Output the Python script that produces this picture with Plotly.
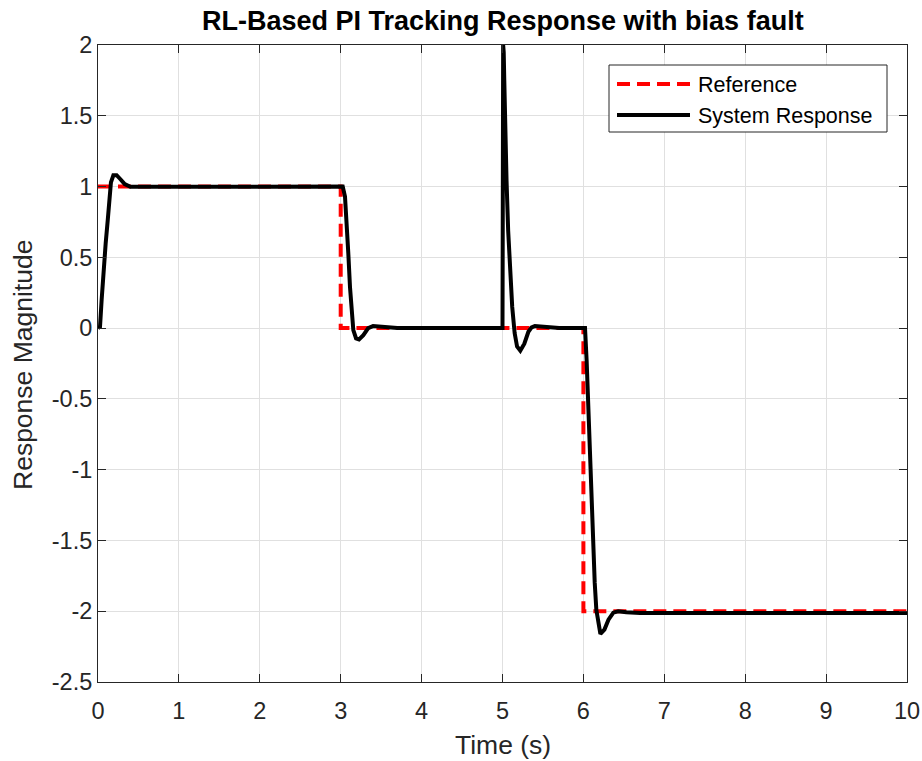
import plotly.graph_objects as go

# Reference signal (step changes)
ref_t = [0, 3, 3, 6, 6, 10]
ref_y = [1, 1, 0, 0, -2, -2]

# System response
resp_t = [0, 0.025, 0.045, 0.066, 0.095, 0.12, 0.14, 0.16, 0.19, 0.23, 0.28, 0.33, 0.40, 0.48, 0.6,
          3.0, 3.025, 3.053, 3.074, 3.094, 3.115, 3.136, 3.156, 3.19, 3.226, 3.28, 3.34, 3.40, 3.53, 3.7,
          5.0, 5.008, 5.015, 5.022, 5.03, 5.04, 5.05, 5.07, 5.09, 5.12, 5.15, 5.18, 5.22, 5.27, 5.32, 5.36,
          5.40, 5.55, 5.7,
          6.0, 6.02, 6.04, 6.06, 6.08, 6.10, 6.12, 6.14, 6.16, 6.19, 6.21, 6.26, 6.31, 6.37, 6.43, 6.53, 6.7,
          10.0]
resp_y = [0, 0.01, 0.2, 0.41, 0.6, 0.76, 0.93, 1.03, 1.08, 1.08, 1.05, 1.017, 0.998, 0.998, 1.0,
          1.0, 1.0, 0.93, 0.76, 0.53, 0.29, 0.10, -0.014, -0.073, -0.08, -0.05, 0.0, 0.014, 0.01, 0.0,
          0.0, 2.0, 1.95, 1.75, 1.45, 1.22, 1.04, 0.69, 0.41, 0.15, -0.035, -0.13, -0.16, -0.11, -0.026, 0.005,
          0.014, 0.005, 0.0,
          0.0, 0.0, -0.23, -0.58, -0.93, -1.29, -1.57, -1.80, -1.99, -2.11, -2.16, -2.13, -2.06, -2.01, -2.0, -2.008, -2.013,
          -2.013]

x_ticks = list(range(0, 11))
y_ticks = [-2.5, -2, -1.5, -1, -0.5, 0, 0.5, 1, 1.5, 2]
y_tick_text = ["-2.5", "-2", "-1.5", "-1", "-0.5", "0", "0.5", "1", "1.5", "2"]

legend_names = ["Reference", "System Response"]
title_text = "RL-Based PI Tracking Response with bias fault"
x_title = "Time (s)"
y_title = "Response Magnitude"

FONT = "Liberation Sans, Arial, sans-serif"
AX = "#262626"

W, H = 922, 761
ml, mr, mt, mb = 98, 15, 45, 79
pw, ph = W - ml - mr, H - mt - mb
def px(x): return (x - ml) / pw
def py(y): return 1 - (y - mt) / ph

fig = go.Figure()
fig.add_trace(go.Scatter(x=ref_t, y=ref_y, mode="lines", name=legend_names[0],
                         line=dict(color="#ff0000", width=4, dash="13px,7px"), showlegend=False))
fig.add_trace(go.Scatter(x=resp_t, y=resp_y, mode="lines", name=legend_names[1],
                         line=dict(color="#000000", width=4), showlegend=False))

# manual legend (MATLAB style)
L, R, T, B = 609, 887, 65, 132
fig.add_shape(type="rect", xref="paper", yref="paper", x0=px(L), x1=px(R), y0=py(B), y1=py(T),
              line=dict(color=AX, width=1), fillcolor="white", layer="above")
fig.add_shape(type="line", xref="paper", yref="paper", x0=px(617), x1=px(690), y0=py(84), y1=py(84),
              line=dict(color="#ff0000", width=4, dash="13px,7px"), layer="above")
fig.add_shape(type="line", xref="paper", yref="paper", x0=px(617), x1=px(690), y0=py(115), y1=py(115),
              line=dict(color="#000000", width=4), layer="above")
for name, yy in zip(legend_names, [85, 116]):
    fig.add_annotation(xref="paper", yref="paper", x=px(696), y=py(yy), text=name, showarrow=False,
                       xanchor="left", yanchor="middle", font=dict(family=FONT, size=21.5, color="#000"))

# title and axis titles
fig.add_annotation(xref="paper", yref="paper", x=px(503), y=py(21), text="<b>" + title_text + "</b>",
                   showarrow=False, xanchor="center", yanchor="middle",
                   font=dict(family=FONT, size=27, color="#000"))
fig.add_annotation(xref="paper", yref="paper", x=px(503), y=py(745), text=x_title,
                   showarrow=False, xanchor="center", yanchor="middle",
                   font=dict(family=FONT, size=26.5, color=AX))
fig.add_annotation(xref="paper", yref="paper", x=px(23), y=py(365), text=y_title, textangle=-90,
                   showarrow=False, xanchor="center", yanchor="middle",
                   font=dict(family=FONT, size=26.5, color=AX))

fig.update_layout(
    width=W, height=H,
    margin=dict(l=ml, r=mr, t=mt, b=mb),
    paper_bgcolor="white", plot_bgcolor="white",
    xaxis=dict(range=[0, 10], tickvals=x_ticks, ticks="inside", ticklen=8, tickcolor=AX,
               showline=True, linecolor=AX, linewidth=1, mirror="ticks",
               showgrid=True, gridcolor="#e0e0e0", gridwidth=1, zeroline=False,
               ticklabelstandoff=8, automargin=False,
               tickfont=dict(family=FONT, size=23.5, color=AX)),
    yaxis=dict(range=[-2.5, 2], tickvals=y_ticks, ticktext=y_tick_text, ticks="inside", ticklen=8, tickcolor=AX,
               showline=True, linecolor=AX, linewidth=1, mirror="ticks",
               showgrid=True, gridcolor="#e0e0e0", gridwidth=1, zeroline=False, automargin=False,
               tickfont=dict(family=FONT, size=23.5, color=AX)),
)

fig.write_html("out.html")
